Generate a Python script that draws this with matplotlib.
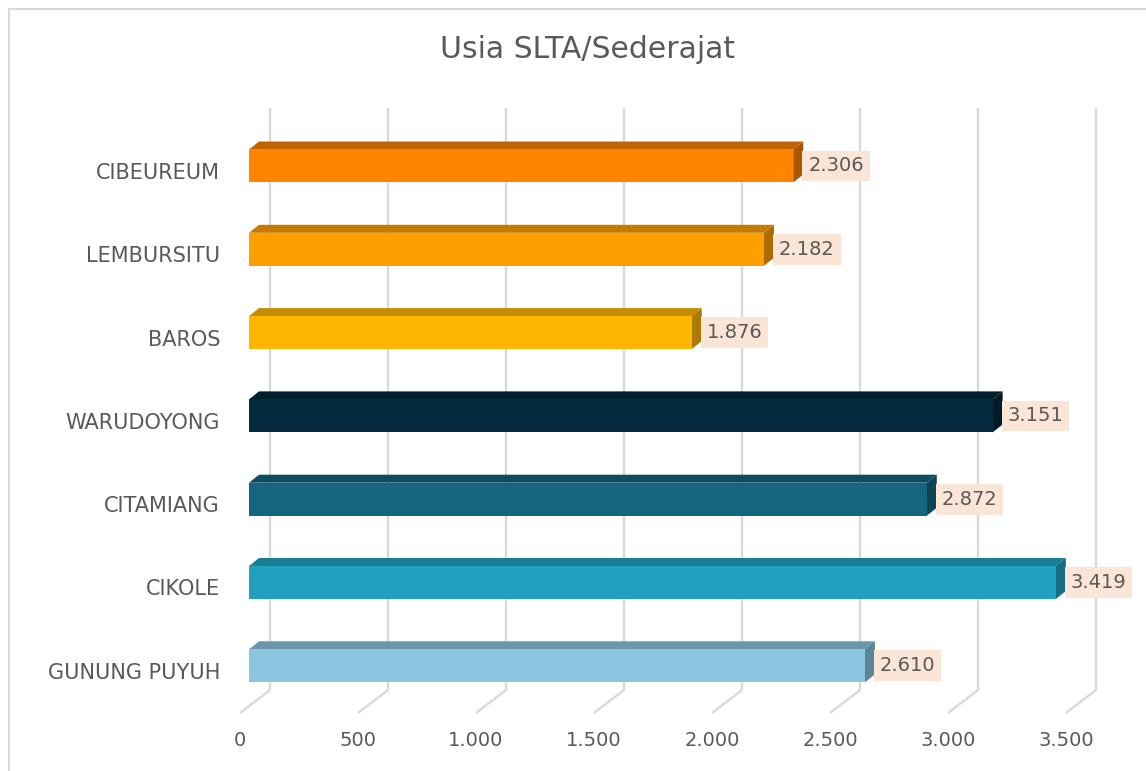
import numpy as np
import matplotlib.pyplot as plt
from matplotlib.patches import Polygon, Rectangle

# %% data
categories = ["CIBEUREUM", "LEMBURSITU", "BAROS", "WARUDOYONG",
              "CITAMIANG", "CIKOLE", "GUNUNG PUYUH"]
values = [2306, 2182, 1876, 3151, 2872, 3419, 2610]
value_labels = ["2.306", "2.182", "1.876", "3.151", "2.872", "3.419", "2.610"]
ticks = [0, 500, 1000, 1500, 2000, 2500, 3000, 3500]
tick_labels = ["0", "500", "1.000", "1.500", "2.000", "2.500", "3.000", "3.500"]
title = "Usia SLTA/Sederajat"

# face colours: front / top / right side
front_colors = ["#FF8500", "#FF9E00", "#FFB600", "#03293F", "#14667E", "#21A0C0", "#8CC5DF"]
top_colors = ["#C06400", "#C57A00", "#C48C00", "#011E2E", "#0E4D60", "#1A7D96", "#6A97AB"]
side_colors = ["#A85700", "#AD6B00", "#AD7B00", "#011A28", "#0C4455", "#166C82", "#5A8699"]

# %% layout (pixel geometry of the Excel-style 3D plot)
W, H, DPI = 1146, 771, 100
X0_PX, PX_PER_UNIT = 249, 0.236     # bar front face: value 0 and scale
Y0_PX, PX_PER_ROW = 166, 83.3       # centre of first bar, row spacing
BAR_H_PX = 33
DEPTH = (10, -8)                    # bar back offset
WALL = (21, -16)                    # back wall offset from bar front
FRONT = (-9, 7)                     # front plane offset from bar front
GRID_TOP, GRID_BOT = 108, 690

TXT = "#595959"
GRID = "#D9D9D9"
plt.rcParams["font.family"] = ["DejaVu Sans"]

fig = plt.figure(figsize=(W / DPI, H / DPI), dpi=DPI)
ax = fig.add_axes([0, 0, 1, 1])
ax.set_xlim(-X0_PX / PX_PER_UNIT, (W - X0_PX) / PX_PER_UNIT)
ax.set_ylim((H - Y0_PX) / PX_PER_ROW, -Y0_PX / PX_PER_ROW)
ax.axis("off")


def ux(px):
    return px / PX_PER_UNIT


def uy(px):
    return px / PX_PER_ROW


def row(py):
    return (py - Y0_PX) / PX_PER_ROW


# back-wall gridlines + floor diagonals
for t in ticks:
    xb = t + ux(WALL[0])
    ax.plot([xb, xb], [row(GRID_TOP), row(GRID_BOT)], color=GRID, lw=1.7,
            solid_capstyle="butt", zorder=1)
    ax.plot([xb, t + ux(FRONT[0])],
            [row(GRID_BOT), row(GRID_BOT) + uy(FRONT[1] - WALL[1])],
            color=GRID, lw=1.7, solid_capstyle="butt", zorder=1)

# bars
rows = np.arange(len(categories))
bh = uy(BAR_H_PX)
ax.barh(rows, values, height=bh, color=front_colors, edgecolor="none", zorder=3)
dx, dy = ux(DEPTH[0]), uy(DEPTH[1])
for i, v in enumerate(values):
    top, bot = i - bh / 2, i + bh / 2
    ax.add_patch(Polygon([(0, top), (v, top), (v + dx, top + dy), (dx, top + dy)],
                         closed=True, fc=top_colors[i], ec="none", zorder=2))
    ax.add_patch(Polygon([(v, top), (v + dx, top + dy), (v + dx, bot + dy), (v, bot)],
                         closed=True, fc=side_colors[i], ec="none", zorder=2))
    ax.text(v + ux(15), i, value_labels[i], ha="left", va="center", fontsize=14,
            color=TXT, zorder=4,
            bbox=dict(boxstyle="square,pad=0.3", fc="#FBE5D6", ec="none"))

# category labels
for i, c in enumerate(categories):
    ax.text(ux(-29), i + uy(FRONT[1]), c, ha="right", va="center",
            fontsize=15, color=TXT)

# value axis labels
for t, lab in zip(ticks, tick_labels):
    ax.text(t + ux(FRONT[0]), row(741), lab, ha="center", va="center",
            fontsize=14, color=TXT)

fig.text(588 / W, 1 - 50 / H, title, ha="center", va="center",
         fontsize=21.5, color=TXT)

# chart-area border (only top and left edges visible)
fig.patches.append(Rectangle((9 / W, -0.1), 2, 1 - 9 / H + 0.1,
                             transform=fig.transFigure, fill=False,
                             ec=GRID, lw=1.5))

fig.savefig("out.png", dpi=DPI)
